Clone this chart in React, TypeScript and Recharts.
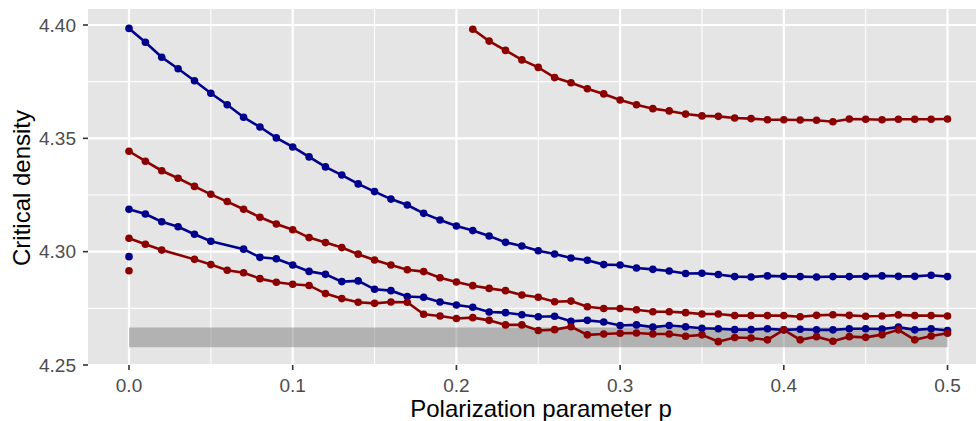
import React from 'react';
import { ComposedChart, Line, XAxis, YAxis, CartesianGrid, ReferenceArea } from 'recharts';

// ---- data ----
const xFull = [0, 0.01, 0.02, 0.03, 0.04, 0.05, 0.06, 0.07, 0.08, 0.09, 0.1, 0.11, 0.12, 0.13, 0.14, 0.15, 0.16, 0.17, 0.18, 0.19, 0.2, 0.21, 0.22, 0.23, 0.24, 0.25, 0.26, 0.27, 0.28, 0.29, 0.3, 0.31, 0.32, 0.33, 0.34, 0.35, 0.36, 0.37, 0.38, 0.39, 0.4, 0.41, 0.42, 0.43, 0.44, 0.45, 0.46, 0.47, 0.48, 0.49, 0.5];
const xLate = [0.21, 0.22, 0.23, 0.24, 0.25, 0.26, 0.27, 0.28, 0.29, 0.3, 0.31, 0.32, 0.33, 0.34, 0.35, 0.36, 0.37, 0.38, 0.39, 0.4, 0.41, 0.42, 0.43, 0.44, 0.45, 0.46, 0.47, 0.48, 0.49, 0.5];
const xNo06 = [0, 0.01, 0.02, 0.03, 0.04, 0.05, 0.07, 0.08, 0.09, 0.1, 0.11, 0.12, 0.13, 0.14, 0.15, 0.16, 0.17, 0.18, 0.19, 0.2, 0.21, 0.22, 0.23, 0.24, 0.25, 0.26, 0.27, 0.28, 0.29, 0.3, 0.31, 0.32, 0.33, 0.34, 0.35, 0.36, 0.37, 0.38, 0.39, 0.4, 0.41, 0.42, 0.43, 0.44, 0.45, 0.46, 0.47, 0.48, 0.49, 0.5];
const xNo03 = [0, 0.01, 0.02, 0.04, 0.05, 0.06, 0.07, 0.08, 0.09, 0.1, 0.11, 0.12, 0.13, 0.14, 0.15, 0.16, 0.17, 0.18, 0.19, 0.2, 0.21, 0.22, 0.23, 0.24, 0.25, 0.26, 0.27, 0.28, 0.29, 0.3, 0.31, 0.32, 0.33, 0.34, 0.35, 0.36, 0.37, 0.38, 0.39, 0.4, 0.41, 0.42, 0.43, 0.44, 0.45, 0.46, 0.47, 0.48, 0.49, 0.5];

const blueUpper = [4.3985, 4.3924, 4.3858, 4.3807, 4.3754, 4.3699, 4.3648, 4.3593, 4.3550, 4.3502, 4.3462, 4.3418, 4.3374, 4.3338, 4.3299, 4.3265, 4.3232, 4.3206, 4.3169, 4.3140, 4.3113, 4.3093, 4.3069, 4.3041, 4.3025, 4.3004, 4.2990, 4.2972, 4.2962, 4.2943, 4.2941, 4.2928, 4.2922, 4.2915, 4.2904, 4.2905, 4.2899, 4.2890, 4.2888, 4.2893, 4.2891, 4.2890, 4.2888, 4.2890, 4.2890, 4.2891, 4.2893, 4.2891, 4.2891, 4.2896, 4.2890];
const redTop = [4.3981, 4.3929, 4.3888, 4.3846, 4.3813, 4.3768, 4.3745, 4.3719, 4.3696, 4.3669, 4.3648, 4.3631, 4.3621, 4.3607, 4.3599, 4.3597, 4.3590, 4.3587, 4.3582, 4.3582, 4.3581, 4.3580, 4.3573, 4.3585, 4.3584, 4.3582, 4.3584, 4.3584, 4.3584, 4.3585];
const redUpper = [4.3443, 4.3399, 4.3357, 4.3324, 4.3288, 4.3253, 4.3221, 4.3187, 4.3152, 4.3122, 4.3097, 4.3062, 4.3040, 4.3018, 4.2989, 4.2963, 4.2941, 4.2920, 4.2912, 4.2885, 4.2866, 4.2850, 4.2838, 4.2828, 4.2809, 4.2799, 4.2779, 4.2782, 4.2757, 4.2749, 4.2749, 4.2744, 4.2735, 4.2735, 4.2731, 4.2725, 4.2725, 4.2718, 4.2718, 4.2718, 4.2718, 4.2713, 4.2719, 4.2722, 4.2719, 4.2715, 4.2716, 4.2721, 4.2718, 4.2718, 4.2716];
const blueLower = [4.3187, 4.3166, 4.3132, 4.3110, 4.3077, 4.3046, 4.3011, 4.2975, 4.2969, 4.2941, 4.2913, 4.2900, 4.2868, 4.2871, 4.2834, 4.2828, 4.2802, 4.2799, 4.2778, 4.2765, 4.2755, 4.2734, 4.2731, 4.2722, 4.2713, 4.2715, 4.2693, 4.2697, 4.2690, 4.2674, 4.2677, 4.2667, 4.2674, 4.2669, 4.2662, 4.2660, 4.2656, 4.2656, 4.2660, 4.2655, 4.2658, 4.2655, 4.2655, 4.2660, 4.2660, 4.2659, 4.2667, 4.2655, 4.2660, 4.2652];
const redLower = [4.3059, 4.3033, 4.3007, 4.2966, 4.2943, 4.2918, 4.2907, 4.2881, 4.2865, 4.2856, 4.2851, 4.2815, 4.2793, 4.2777, 4.2772, 4.2778, 4.2777, 4.2724, 4.2716, 4.2705, 4.2709, 4.2697, 4.2677, 4.2677, 4.2652, 4.2656, 4.2669, 4.2633, 4.2637, 4.2640, 4.2641, 4.2637, 4.2637, 4.2627, 4.2633, 4.2603, 4.2621, 4.2619, 4.2611, 4.2655, 4.2611, 4.2625, 4.2605, 4.2625, 4.2622, 4.2634, 4.2655, 4.2611, 4.2628, 4.2640];

const blueSingleX = [0];
const blueSingle = [4.2978];
const redSingleX = [0];
const redSingle = [4.2916];

const bandX = [0, 0.5];
const bandY = [4.2578, 4.2665];

const xTicks = [0, 0.1, 0.2, 0.3, 0.4, 0.5];
const xMinor = [0.05, 0.15, 0.25, 0.35, 0.45];
const yTicks = [4.25, 4.3, 4.35, 4.4];
const yMinor = [4.275, 4.325, 4.375];

const xDomain: [number, number] = [-0.02505, 0.5174];
const yDomain: [number, number] = [4.25, 4.40706];

const BLUE = '#00008B';
const RED = '#8B0000';
const FONT = '"Liberation Sans", Arial, Helvetica, sans-serif';

const toPts = (xs: number[], ys: number[]) => xs.map((x, i) => ({ x, y: ys[i] }));

const series = [
  { key: 'blueUpper', color: BLUE, data: toPts(xFull, blueUpper) },
  { key: 'redTop', color: RED, data: toPts(xLate, redTop) },
  { key: 'redUpper', color: RED, data: toPts(xFull, redUpper) },
  { key: 'blueLower', color: BLUE, data: toPts(xNo06, blueLower) },
  { key: 'redLower', color: RED, data: toPts(xNo03, redLower) },
  { key: 'blueSingle', color: BLUE, data: toPts(blueSingleX, blueSingle) },
  { key: 'redSingle', color: RED, data: toPts(redSingleX, redSingle) },
];

const XLabel = (props: any) => {
  const vb = props.viewBox || {};
  return (
    <text x={vb.x + vb.width / 2 + 9} y={vb.y + 52} textAnchor="middle" fill="#000" fontSize={24} fontFamily={FONT}>
      Polarization parameter p
    </text>
  );
};

const YLabel = (props: any) => {
  const vb = props.viewBox || {};
  const cx = vb.x + 30;
  const cy = vb.y + vb.height / 2 + 1;
  return (
    <text transform={`translate(${cx},${cy}) rotate(-90)`} textAnchor="middle" fill="#000" fontSize={24} fontFamily={FONT}>
      Critical density
    </text>
  );
};

export default function App() {
  return (
    <div style={{ position: 'absolute', left: 0, top: 0, width: 976, height: 421, background: '#fff' }}>
      <ComposedChart width={976} height={421} margin={{ top: 9, right: 0, bottom: 0, left: 0 }}>
        <CartesianGrid
          fill="#E5E5E5"
          stroke="#FFFFFF"
          strokeWidth={1.1}
          verticalValues={xMinor}
          horizontalValues={yMinor}
        />
        <CartesianGrid
          stroke="#FFFFFF"
          strokeWidth={2.2}
          verticalValues={xTicks}
          horizontalValues={yTicks}
        />
        <XAxis
          type="number"
          dataKey="x"
          domain={xDomain}
          allowDataOverflow
          ticks={xTicks}
          tickFormatter={(v: number) => v.toFixed(1)}
          tick={{ fill: '#4D4D4D', fontSize: 19, fontFamily: FONT }}
          tickLine={{ stroke: '#333333', strokeWidth: 1.6 }}
          tickSize={5}
          tickMargin={9}
          axisLine={false}
          height={56}
          label={<XLabel />}
        />
        <YAxis
          type="number"
          dataKey="y"
          domain={yDomain}
          allowDataOverflow
          ticks={yTicks}
          tickFormatter={(v: number) => v.toFixed(2)}
          tick={{ fill: '#4D4D4D', fontSize: 19, fontFamily: FONT }}
          tickLine={{ stroke: '#333333', strokeWidth: 1.6 }}
          tickSize={5}
          tickMargin={7}
          axisLine={false}
          width={88}
          label={<YLabel />}
        />
        <ReferenceArea
          x1={bandX[0]}
          x2={bandX[1]}
          y1={bandY[0]}
          y2={bandY[1]}
          fill="#7F7F7F"
          fillOpacity={0.5}
          stroke="none"
        />
        {series.map((s) => (
          <Line
            key={s.key}
            data={s.data}
            dataKey="y"
            type="linear"
            stroke={s.color}
            strokeWidth={2.6}
            dot={{ r: 3.8, fill: s.color, stroke: 'none' }}
            activeDot={false}
            isAnimationActive={false}
            legendType="none"
          />
        ))}
      </ComposedChart>
    </div>
  );
}
